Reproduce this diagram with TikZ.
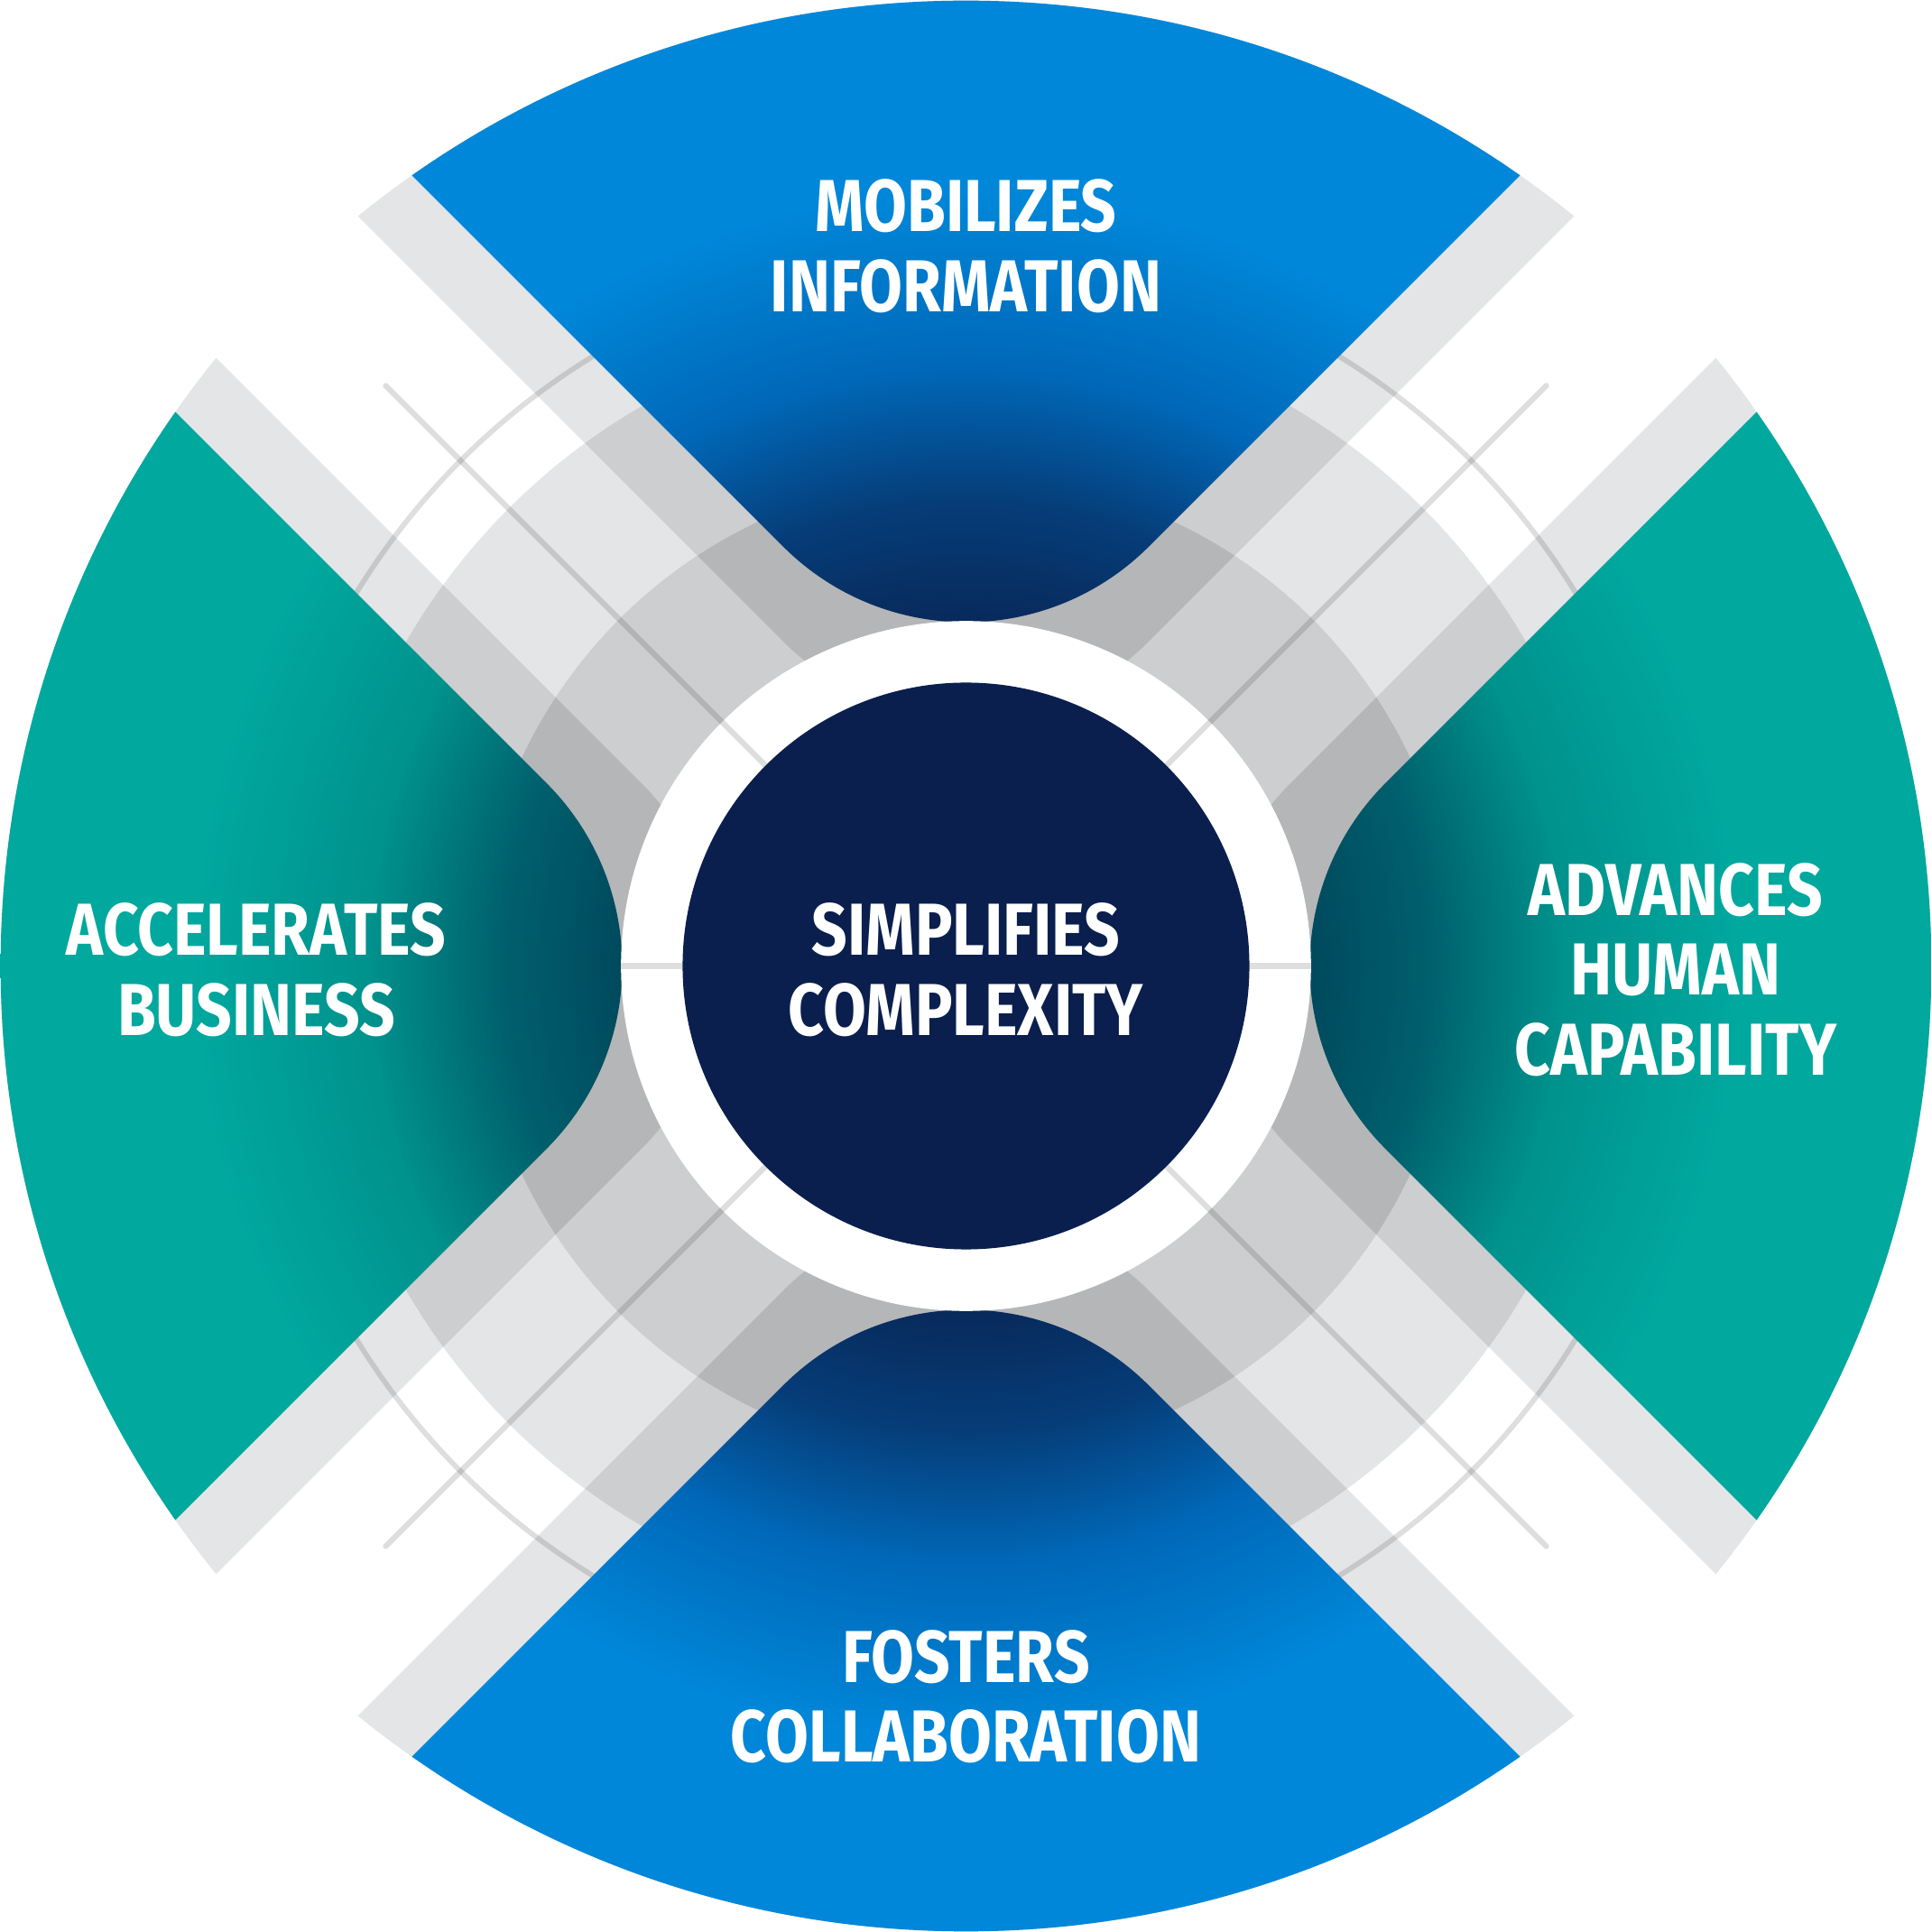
\documentclass[tikz,border=0pt]{standalone}
\usepackage{fontspec}
\setmainfont{Fira Sans}[FakeStretch=0.85]
\definecolor{bluedark}{HTML}{082A5C}
\definecolor{bluemid}{HTML}{0068B8}
\definecolor{bluelight}{HTML}{0087D9}
\definecolor{tealdark}{HTML}{004A5E}
\definecolor{tealmid}{HTML}{00928D}
\definecolor{teallight}{HTML}{00A89E}
\definecolor{greyA}{HTML}{E4E5E6}
\definecolor{greyB}{HTML}{CDCED0}
\definecolor{greyC}{HTML}{B5B6B8}
\definecolor{coredark}{HTML}{0A1F4E}
\pgfdeclareradialshading{blueglow}{\pgfpoint{0bp}{0bp}}{color(0bp)=(bluedark); color(9bp)=(bluedark); color(12bp)=(bluedark!70!bluemid); color(15.5bp)=(bluemid); color(20bp)=(bluelight); color(25bp)=(bluelight); color(50bp)=(bluelight)}
\pgfdeclareradialshading{tealglow}{\pgfpoint{0bp}{0bp}}{color(0bp)=(tealdark); color(9bp)=(tealdark); color(12bp)=(tealdark!70!tealmid); color(15.5bp)=(tealmid); color(20bp)=(teallight); color(25bp)=(teallight); color(50bp)=(teallight)}
% wedge between two diagonals, apex at distance #2, turned by #1
\newcommand\wedgepath[2]{[rotate=#1,rounded corners=2.1cm] (-9,{#2+9}) -- (0,#2) -- (9,{#2+9}) -- cycle}
\tikzset{
  label text/.style={text=white, font=\bfseries\fontsize{17}{18.5}\selectfont, align=center},
  thin ring/.style={draw=black, opacity=0.13, line width=1.2pt},
  guide/.style={draw=black, opacity=0.13, line width=1.3pt, line cap=round}
}
\begin{document}
\begin{tikzpicture}
\useasboundingbox (-7.84,-7.84) rectangle (7.84,7.84);

% grey bands
\begin{scope}
  \clip (0,0) circle (7.835);
  \foreach \a in {0,90,180,270} \fill[greyA] \wedgepath{\a}{1.15};
  \draw[thin ring] (0,0) circle (5.8);
  \begin{scope}
    \clip (0,0) circle (5.25);
    \fill[greyA] (0,0) circle (5.25);
    \foreach \a in {0,90,180,270} \fill[greyB] \wedgepath{\a}{1.15};
    \clip (0,0) circle (3.98);
    \fill[greyB] (0,0) circle (3.98);
    \foreach \a in {0,90,180,270} \fill[greyC] \wedgepath{\a}{1.15};
  \end{scope}
\end{scope}

% coloured sectors
\foreach \a/\sh in {0/blueglow,180/blueglow,90/tealglow,270/tealglow}{
  \begin{scope}
    \clip \wedgepath{\a}{1.92};
    \shade[shading=\sh] (0,0) circle (7.835);
  \end{scope}
}

% white ring and guides
\fill[white] (0,0) circle (2.8);
\foreach \a in {45,135,225,315}{
  \coordinate (gout\a) at (\a:6.66);
  \coordinate (gin\a) at (\a:2.3);
  \draw[guide] (gout\a) -- (gin\a);
}
\coordinate (tabL1) at (-2.8,0); \coordinate (tabL2) at (-2.3,0);
\coordinate (tabR1) at (2.8,0);  \coordinate (tabR2) at (2.3,0);
\draw[guide, line cap=butt] (tabL1) -- (tabL2);
\draw[guide, line cap=butt] (tabR1) -- (tabR2);
\fill[coredark] (0,0) circle (2.3);

% labels
\node[label text] (core) at (0,-0.03) {SIMPLIFIES\\COMPLEXITY};
\node[label text] (info) at (0,5.84) {MOBILIZES\\INFORMATION};
\node[label text] (biz) at (-5.76,-0.03) {ACCELERATES\\BUSINESS};
\node[label text] (human) at (5.76,-0.03) {ADVANCES\\HUMAN\\CAPABILITY};
\node[label text] (collab) at (0,-5.93) {FOSTERS\\COLLABORATION};
\end{tikzpicture}
\end{document}
